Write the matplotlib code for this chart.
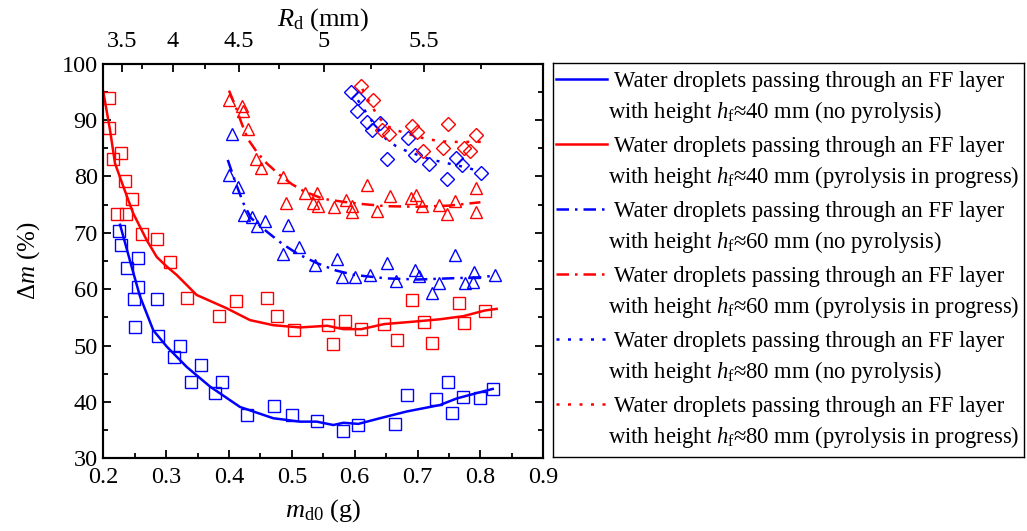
import matplotlib
matplotlib.use("Agg")
import matplotlib.pyplot as plt
from matplotlib.ticker import MultipleLocator, FixedLocator

plt.rcParams['font.family'] = ['Liberation Serif', 'DejaVu Serif']
plt.rcParams['mathtext.fontset'] = 'custom'
plt.rcParams['mathtext.rm'] = 'Liberation Serif'
plt.rcParams['mathtext.it'] = 'Liberation Serif:italic'
plt.rcParams['mathtext.bf'] = 'Liberation Serif:bold'

BLUE = '#0000FF'
RED = '#FF0000'

# ---------------- data ----------------
# 40 mm, no pyrolysis (blue squares)
b40_x = [0.225, 0.228, 0.255, 0.238, 0.256, 0.249, 0.286, 0.251, 0.2875, 0.322, 0.3125,
         0.355, 0.339, 0.389, 0.378, 0.4716, 0.428, 0.500, 0.5395, 0.581, 0.605, 0.6645,
         0.6836, 0.729, 0.748, 0.754, 0.772, 0.799, 0.8195]
b40_y = [70.3, 67.8, 65.6, 63.8, 60.3, 58.2, 58.2, 53.2, 51.6, 49.9, 47.9,
         46.6, 43.6, 43.6, 41.6, 39.3, 37.6, 37.6, 36.6, 34.8, 35.85, 36.1,
         41.3, 40.5, 43.5, 38.1, 40.9, 40.7, 42.3]
b40_fit_x = [0.2267, 0.245, 0.2584, 0.2795, 0.301, 0.3327, 0.370, 0.4175, 0.4705, 0.513,
             0.5395, 0.566, 0.582, 0.6057, 0.640, 0.6827, 0.7356, 0.762, 0.7886, 0.8195]
b40_fit_y = [71.4, 64.0, 58.7, 52.7, 49.8, 46.2, 42.7, 39.1, 37.1, 36.5,
             36.5, 35.9, 36.3, 36.1, 37.1, 38.3, 39.45, 40.6, 41.4, 42.3]

# 40 mm, pyrolysis in progress (red squares)
r40_x = [0.2095, 0.2086, 0.2277, 0.216, 0.2345, 0.2457, 0.2223, 0.236, 0.2616, 0.285,
         0.306, 0.3327, 0.3836, 0.4116, 0.46, 0.4758, 0.5034, 0.557, 0.5654, 0.5845,
         0.6105, 0.647, 0.6668, 0.6906, 0.7107, 0.7234, 0.7654, 0.774, 0.8067]
r40_y = [93.8, 88.5, 84.1, 83.1, 79.2, 76.0, 73.4, 73.3, 69.7, 68.9,
         64.8, 58.4, 55.3, 57.9, 58.4, 55.3, 52.75, 53.6, 50.3, 54.35,
         52.9, 53.9, 50.9, 58.1, 54.2, 50.4, 57.6, 54.0, 56.2]
r40_fit_x = [0.200, 0.2107, 0.2186, 0.2318, 0.2477, 0.269, 0.285, 0.3009, 0.3168, 0.3486,
             0.3963, 0.4334, 0.4705, 0.513, 0.5564, 0.5818, 0.6105, 0.647, 0.6906, 0.7356,
             0.7727, 0.8067, 0.8258]
r40_fit_y = [95.0, 88.2, 82.3, 78.2, 73.4, 68.7, 65.7, 64.0, 62.5, 58.95,
             56.6, 54.5, 53.6, 53.2, 53.5, 52.9, 52.9, 53.8, 54.2, 54.65,
             55.2, 56.2, 56.5]

# 60 mm, no pyrolysis (blue triangles)
b60_x = [0.4043, 0.4005, 0.4138, 0.4243, 0.436, 0.4577, 0.445, 0.4938, 0.4864, 0.5109,
         0.5373, 0.5713, 0.5792, 0.6009, 0.6243, 0.6508, 0.6656, 0.6954, 0.7027, 0.7224,
         0.7345, 0.759, 0.7759, 0.7897, 0.7877, 0.8231]
b60_y = [87.5, 80.2, 78.05, 73.1, 72.7, 72.1, 71.1, 71.4, 66.2, 67.5,
         64.3, 65.3, 62.1, 62.2, 62.5, 64.6, 61.5, 63.3, 62.4, 59.25,
         61.0, 66.0, 61.0, 63.1, 61.3, 62.5]
b60_fit_x = [0.398, 0.41, 0.423, 0.435, 0.46, 0.485, 0.51, 0.54, 0.57, 0.60,
             0.65, 0.70, 0.75, 0.80, 0.823]
b60_fit_y = [82.9, 79.0, 75.2, 72.6, 70.2, 68.0, 66.2, 64.6, 63.3, 62.5,
             61.9, 61.7, 61.9, 62.1, 62.4]

# 60 mm, pyrolysis in progress (red triangles)
r60_x = [0.4005, 0.42, 0.4217, 0.4307, 0.4424, 0.4509, 0.4864, 0.4902, 0.5209, 0.5395,
         0.5331, 0.542, 0.567, 0.5856, 0.5952, 0.5952, 0.619, 0.636, 0.656, 0.689,
         0.697, 0.7065, 0.7345, 0.7472, 0.7595, 0.793, 0.793]
r60_y = [93.5, 92.5, 91.6, 88.4, 83.0, 81.4, 79.8, 75.3, 77.0, 77.0,
         75.2, 74.7, 74.6, 75.8, 74.7, 73.7, 78.5, 73.9, 76.5, 76.1,
         76.7, 74.7, 74.9, 73.4, 75.7, 78.0, 73.7]
r60_fit_x = [0.40, 0.41, 0.42, 0.43, 0.445, 0.46, 0.48, 0.50, 0.52, 0.55,
             0.58, 0.61, 0.65, 0.70, 0.75, 0.80]
r60_fit_y = [95.2, 92.5, 89.4, 86.6, 84.2, 82.3, 80.3, 78.6, 77.3, 76.0,
             75.5, 75.1, 74.7, 74.6, 74.8, 75.4]

# 80 mm, no pyrolysis (blue diamonds)
b80_x = [0.5935, 0.6052, 0.603, 0.619, 0.627, 0.640, 0.652, 0.685, 0.6964, 0.7186,
         0.7463, 0.761, 0.770, 0.8004]
b80_y = [95.0, 93.8, 91.6, 89.7, 88.2, 89.4, 83.1, 86.8, 83.8, 82.1,
         79.6, 83.2, 82.0, 80.6]
b80_fit_x = [0.605, 0.62, 0.635, 0.65, 0.665, 0.68, 0.70, 0.72, 0.74, 0.76, 0.78, 0.80]
b80_fit_y = [93.5, 91.0, 88.5, 86.6, 85.4, 84.6, 83.8, 83.0, 82.5, 82.0, 81.5, 80.8]

# 80 mm, pyrolysis in progress (red diamonds)
r80_x = [0.61, 0.6295, 0.643, 0.655, 0.6917, 0.6986, 0.708, 0.741, 0.749, 0.774,
         0.7834, 0.793]
r80_y = [96.0, 93.5, 88.2, 87.5, 89.0, 87.8, 84.5, 85.1, 89.2, 85.0,
         84.4, 87.4]
r80_fit_x = [0.612, 0.625, 0.638, 0.65, 0.665, 0.68, 0.70, 0.72, 0.74, 0.76, 0.78, 0.805]
r80_fit_y = [95.5, 92.8, 90.5, 89.0, 88.2, 87.7, 87.0, 86.5, 86.2, 86.1, 86.1, 86.1]

# top axis (R_d, mm) tick labels and their m_d0 positions
rd_labels = ['3.5', '4', '4.5', '5', '5.5']
rd_major_pos = [0.2293, 0.3104, 0.4159, 0.5504, 0.7096]
rd_minor_pos = [0.261, 0.3616, 0.4795, 0.6258, 0.8009]

legend_texts = [
    ("Water droplets passing through an FF layer",
     r"with height $h_{\mathrm{f}}$≈40 mm (no pyrolysis)"),
    ("Water droplets passing through an FF layer",
     r"with height $h_{\mathrm{f}}$≈40 mm (pyrolysis in progress)"),
    ("Water droplets passing through an FF layer",
     r"with height $h_{\mathrm{f}}$≈60 mm (no pyrolysis)"),
    ("Water droplets passing through an FF layer",
     r"with height $h_{\mathrm{f}}$≈60 mm (pyrolysis in progress)"),
    ("Water droplets passing through an FF layer",
     r"with height $h_{\mathrm{f}}$≈80 mm (no pyrolysis)"),
    ("Water droplets passing through an FF layer",
     r"with height $h_{\mathrm{f}}$≈80 mm (pyrolysis in progress)"),
]

# ---------------- figure ----------------
W, H = 1027, 531
fig = plt.figure(figsize=(W / 100, H / 100), dpi=100)
L, R_, T, B = 103.3, 543.3, 63.5, 458.3
ax = fig.add_axes([L / W, 1 - B / H, (R_ - L) / W, (B - T) / H])

DASHDOT = (0, (5, 2.4, 1, 2.4))
DOTTED = (0, (1.2, 3.4))
lw = 1.8
ms = 8.0
mew = 1.0

series = [
    (b40_x, b40_y, b40_fit_x, b40_fit_y, BLUE, 's', '-'),
    (r40_x, r40_y, r40_fit_x, r40_fit_y, RED, 's', '-'),
    (b60_x, b60_y, b60_fit_x, b60_fit_y, BLUE, '^', DASHDOT),
    (r60_x, r60_y, r60_fit_x, r60_fit_y, RED, '^', DASHDOT),
    (b80_x, b80_y, b80_fit_x, b80_fit_y, BLUE, 'D', DOTTED),
    (r80_x, r80_y, r80_fit_x, r80_fit_y, RED, 'D', DOTTED),
]
for px, py, fx, fy, c, mk, ls in series:
    size = ms * (0.92 if mk == 'D' else (1.08 if mk == '^' else 1.0))
    ax.plot(px, py, linestyle='none', marker=mk, markersize=size,
            markerfacecolor='none', markeredgecolor=c, markeredgewidth=mew, zorder=3)
    ax.plot(fx, fy, color=c, linestyle=ls, linewidth=lw, zorder=2)

ax.set_xlim(0.2, 0.9)
ax.set_ylim(30, 100)
ax.xaxis.set_major_locator(MultipleLocator(0.1))
ax.xaxis.set_minor_locator(MultipleLocator(0.05))
ax.yaxis.set_major_locator(MultipleLocator(10))
ax.yaxis.set_minor_locator(MultipleLocator(5))
ax.tick_params(which='both', direction='in', right=True, top=False,
               labelsize=17.5, width=1.3)
ax.tick_params(axis='x', pad=6)
ax.tick_params(axis='y', pad=4)
ax.tick_params(which='major', length=6)
ax.tick_params(which='minor', length=3.5)
for sp in ax.spines.values():
    sp.set_linewidth(1.5)
ax.xaxis.set_major_formatter(matplotlib.ticker.FuncFormatter(lambda v, p: f"{v:.1f}"))

ax.set_xlabel(r"$m_{\mathrm{d0}}$ (g)", fontsize=19, labelpad=7)
ax.set_ylabel(r"$\Delta m$ (%)", fontsize=18, labelpad=14)

# top axis
ax2 = ax.twiny()
ax2.set_xlim(ax.get_xlim())
ax2.xaxis.set_major_locator(FixedLocator(rd_major_pos))
ax2.xaxis.set_minor_locator(FixedLocator(rd_minor_pos))
ax2.set_xticklabels(rd_labels)
ax2.tick_params(which='both', direction='in', labelsize=17.5, width=1.3, pad=8)
ax2.tick_params(which='major', length=6)
ax2.tick_params(which='minor', length=3.5)
ax2.set_xlabel(r"$R_{\mathrm{d}}$ (mm)", fontsize=19, labelpad=4)
for sp in ax2.spines.values():
    sp.set_linewidth(1.5)

# legend panel (manual, to keep handle aligned with first text line)
LL, LR, LT, LB = 553.3, 1024.3, 63.3, 457.3
axl = fig.add_axes([LL / W, 1 - LB / H, (LR - LL) / W, (LB - LT) / H])
axl.set_xlim(0, LR - LL)
axl.set_ylim(LB - LT, 0)
axl.set_xticks([])
axl.set_yticks([])
for sp in axl.spines.values():
    sp.set_linewidth(1.0)
leg_styles = [(BLUE, '-'), (RED, '-'), (BLUE, DASHDOT), (RED, DASHDOT),
              (BLUE, DOTTED), (RED, DOTTED)]
for i, ((c, ls), (t1, t2)) in enumerate(zip(leg_styles, legend_texts)):
    y0 = 65.0 * i
    axl.plot([2.7, 53.4], [y0 + 15.7, y0 + 15.7], color=c, linestyle=ls, linewidth=lw)
    axl.text(60.5, y0 + 23.4, t1, fontsize=16.3, va='baseline', ha='left')
    axl.text(54.5, y0 + 55.0, t2, fontsize=16.3, va='baseline', ha='left')

fig.savefig("out.png", dpi=100)
